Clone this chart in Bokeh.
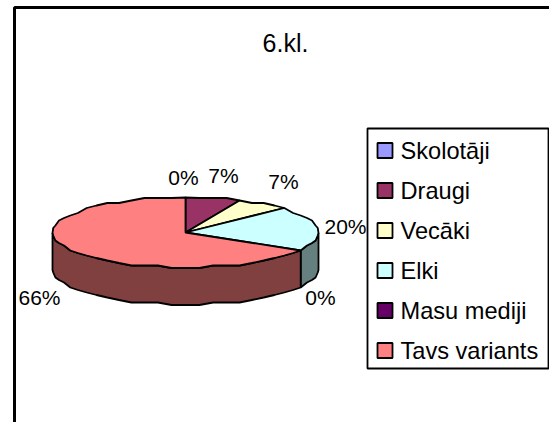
import math
from bokeh.plotting import figure
from bokeh.models import Range1d
from bokeh.core.properties import value
from bokeh.embed import file_html
from bokeh.resources import INLINE

title = "6.kl."
categories = ["Skolotāji", "Draugi", "Vecāki", "Elki", "Masu mediji", "Tavs variants"]
values = [0, 1, 1, 3, 0, 10]
pct_labels = ["0%", "7%", "7%", "20%", "0%", "66%"]
colors = ["#9999FF", "#993366", "#FFFFCC", "#CCFFFF", "#660066", "#FF8080"]
side_colors = ["#4D4D80", "#4D1A33", "#808066", "#668080", "#330033", "#804040"]
label_pos = [(183, 177), (223, 175), (283, 181), (345, 226), (320, 297), (39, 297)]

W, H = 549, 422
CX, CY, RX, RY, DEPTH = 185, 232, 133, 35, 37
STEP = 6.0
GRID = 2.5
FONT = "Liberation Sans"
INK = "#000000"

p = figure(width=W, height=H, x_range=Range1d(0, W), y_range=Range1d(H, 0),
           output_backend="svg", toolbar_location=None, min_border=0,
           outline_line_color=None,
           background_fill_color="#FFFFFF", border_fill_color="#FFFFFF")
p.axis.visible = False
p.grid.visible = False


def pt(a, dy=0.0):
    r = math.radians(a)
    x = CX + RX * math.sin(r)
    y = CY - RY * math.cos(r)
    # the reference's outline is stepped: snap the rim to a coarse grid
    if 0 < a % 360:
        y = round(y / GRID) * GRID
    return x, y + dy


def arc(a0, a1):
    n = max(1, int(round((a1 - a0) / STEP)))
    return [a0 + (a1 - a0) * i / n for i in range(n + 1)]


total = sum(values)
spans = []
a = 0.0
for v in values:
    spans.append((a, a + 360.0 * v / total))
    a = spans[-1][1]

# walls of the visible front half (90..270 degrees clockwise from the top)
for (a0, a1), sc, v in zip(spans, side_colors, values):
    lo, hi = max(a0, 90), min(a1, 270)
    if v == 0 or lo >= hi:
        continue
    angs = arc(lo, hi)
    pts = [pt(t) for t in angs] + [pt(t, DEPTH) for t in reversed(angs)]
    p.patch([q[0] for q in pts], [q[1] for q in pts], fill_color=sc,
            line_color=INK, line_width=1.8)

# top faces
for (a0, a1), c, v in zip(spans, colors, values):
    if v == 0:
        continue
    pts = [(CX, CY)] + [pt(t) for t in arc(a0, a1)]
    p.patch([q[0] for q in pts], [q[1] for q in pts], fill_color=c,
            line_color=INK, line_width=1.8)

# percent labels
p.text([q[0] for q in label_pos], [q[1] for q in label_pos], text=pct_labels,
       text_font=value(FONT), text_font_size="21px",
       text_color=INK, text_align="center", text_baseline="middle")

# title
p.text([285], [42], text=[title], text_font=value(FONT), text_font_size="25px",
       text_color=INK, text_align="center", text_baseline="middle")

# chart frame: open at the bottom, runs off the right side
p.line([14, 14, W], [H, 7, 7], line_color=INK, line_width=3)

# legend
LX0, LY0, LX1, LY1 = 367, 128, 548, 368
p.quad(left=[LX0], right=[LX1], top=[LY0], bottom=[LY1], fill_color="#FFFFFF",
       line_color=INK, line_width=1.8)
ly = [150 + 40 * i for i in range(len(categories))]
p.quad(left=[377] * 6, right=[392] * 6, top=[y - 7.5 for y in ly], bottom=[y + 7.5 for y in ly],
       fill_color=colors, line_color=INK, line_width=1.8)
p.text([400] * 6, ly, text=categories, text_font=value(FONT), text_font_size="23.6px",
       text_color=INK, text_align="left", text_baseline="middle")

open("out.html", "w").write(file_html(p, INLINE))
